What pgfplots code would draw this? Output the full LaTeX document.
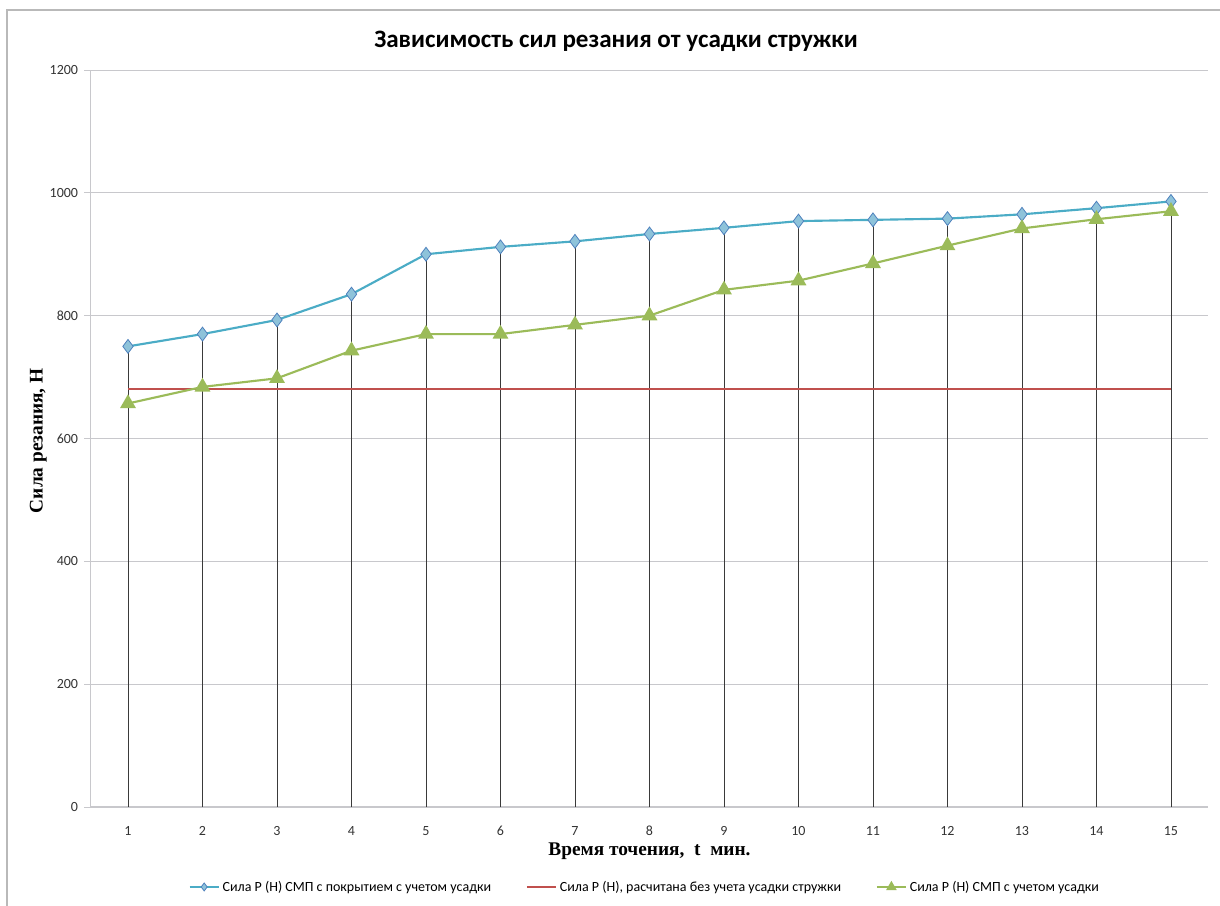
\documentclass[border=0pt]{standalone}
\usepackage{pgfplots}
\pgfplotsset{compat=1.18}
\usepackage{fontspec}
\setmainfont{Carlito}
\newfontfamily\timesf{Liberation Serif}
\definecolor{blueL}{HTML}{4BACC6}
\definecolor{blueF}{HTML}{8EC3DA}
\definecolor{blueE}{HTML}{4F81BD}
\definecolor{redL}{HTML}{C0504D}
\definecolor{greenL}{HTML}{9BBB59}
\definecolor{gridc}{HTML}{C8C8CC}
\definecolor{dropc}{HTML}{3A3A3A}

\pgfplotstableread{
t P
1 750
2 770
3 793
4 835
5 900
6 912
7 921
8 933
9 943
10 954
11 956
12 958
13 965
14 975
15 986
}\coated

\pgfplotstableread{
t P
1 680
2 680
3 680
4 680
5 680
6 680
7 680
8 680
9 680
10 680
11 680
12 680
13 680
14 680
15 680
}\calc

\pgfplotstableread{
t P
1 657
2 684
3 698
4 743
5 770
6 770
7 785
8 800
9 842
10 857
11 885
12 914
13 942
14 957
15 970
}\shrink

\begin{document}
\begin{tikzpicture}
\path[use as bounding box] (0pt,0pt) rectangle (915pt,679.5pt);
\draw[gray!55, line width=0.8pt] (5.25pt,0pt) -- (5.25pt,672pt) -- (915pt,672pt);
\begin{axis}[
  at={(68.06pt,74.25pt)}, anchor=south west,
  scale only axis,
  width=838.1pt, height=552.75pt,
  xmin=0.5, xmax=15.5,
  ymin=0, ymax=1200,
  xtick={1,...,15},
  ytick={0,200,...,1200},
  ymajorgrids,
  grid style={gridc, line width=0.6pt},
  axis x line*=bottom,
  axis y line*=left,
  axis line style={gridc, line width=0.8pt, -},
  xtick style={draw=none},
  ytick style={gridc, line width=0.6pt},
  tick align=outside,
  major tick length=5pt,
  tick label style={font=\fontsize{10.5}{12}\selectfont, text=black!80},
  /pgf/number format/assume math mode=true,
  /pgf/number format/1000 sep={},
  yticklabel style={xshift=-1pt},
  xticklabel style={yshift=-5pt, text height=1.6ex, text depth=0pt},
  title={\bfseries Зависимость сил резания от усадки стружки},
  title style={font=\fontsize{18.8}{22}\selectfont, at={(axis description cs:0.47,1.028)}, anchor=center},
  xlabel={\timesf\bfseries Время точения,\ \ t\ \ мин.},
  xlabel style={font=\fontsize{14.5}{17}\selectfont, at={(axis description cs:0.5,-0.06)}, anchor=center},
  ylabel={\timesf\bfseries Сила резания, Н},
  ylabel style={font=\fontsize{14.5}{17}\selectfont, at={(axis description cs:-0.047,0.497)}, anchor=center, rotate=0},
  legend columns=3,
  legend style={at={(axis description cs:0.496,-0.1085)}, anchor=center, draw=none,
    font=\fontsize{10.5}{12}\selectfont,
    /tikz/every even column/.append style={column sep=24pt},
    inner sep=0pt},
  legend cell align=left,
  legend image code/.code={\draw[mark repeat=2, mark phase=2, mark size=3pt] plot coordinates {(0pt,0pt) (11pt,0pt) (22pt,0pt)};},
]
\addplot[ycomb, dropc, line width=0.5pt, forget plot] table[x=t,y=P] {\coated};
\addplot[blueL, line width=1.6pt, mark=diamond*, mark size=5.2pt,
  mark options={fill=blueF, draw=blueE, line width=0.6pt}] table[x=t,y=P] {\coated};
\addlegendentry{Сила Р (Н) СМП с покрытием с учетом усадки}
\addplot[redL, line width=1.6pt] table[x=t,y=P] {\calc};
\addlegendentry{Сила Р (Н), расчитана без учета усадки стружки}
\addplot[greenL, line width=1.6pt, mark=triangle*, mark size=5.3pt,
  mark options={fill=greenL, draw=greenL}] table[x=t,y=P] {\shrink};
\addlegendentry{Сила Р (Н) СМП с учетом усадки}
\end{axis}
\end{tikzpicture}
\end{document}
